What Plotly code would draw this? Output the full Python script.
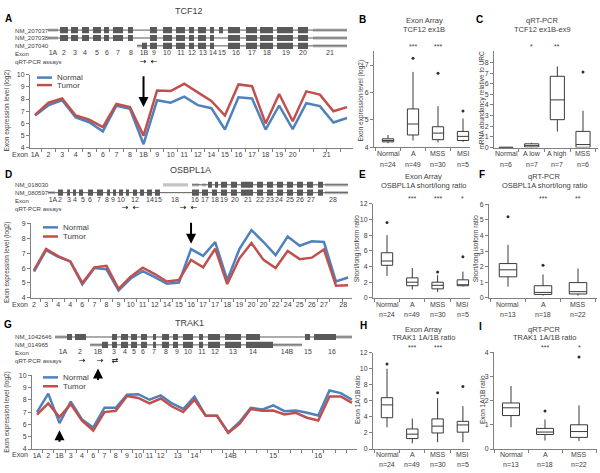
import plotly.graph_objects as go

W, H = 600, 473
FONT = "Liberation Sans"
TXT = "#404040"
AXC = "#808080"
BLUE = "#4F81BD"
RED = "#C0504D"
DARK = "#5a5a5a"
LIGHT = "#c4c4c4"

# ---- probe-level exon expression (log2), normal vs tumor
tcf12_normal = [6.65, 7.5, 7.9, 6.5, 6.1, 5.35, 7.45, 7.2, 4.3, 7.9, 7.7, 8.2, 7.5, 7.25,
                5.5, 8.15, 8.05, 5.5, 7.47, 5.54, 7.66, 7.42, 6.08, 6.45]
tcf12_tumor = [6.7, 7.7, 8.05, 6.65, 6.3, 5.7, 7.6, 7.35, 5.0, 8.7, 8.65, 9.25, 8.55, 7.85,
               6.65, 9.2, 9.05, 6.0, 8.41, 6.18, 8.63, 8.36, 7.0, 7.34]
tcf12_ticks = ["1A", "2", "3", "4", "5", "6", "7", "8", "1B", "9", "10", "11", "12", "14",
               "15", "16", "17", "18", "19", "20", "21"]
tcf12_tickpos = list(range(20)) + [21.5]

osbpl_normal = [5.76, 7.2, 6.75, 6.45, 4.9, 6.0, 5.92, 4.5, 5.3, 5.8, 5.4, 4.95, 5.03, 7.27,
                6.82, 7.75, 5.2, 7.27, 8.55, 7.75, 6.87, 8.12, 7.5, 7.8, 7.75, 5.1, 5.37]
osbpl_tumor = [5.87, 7.28, 6.8, 6.45, 5.0, 6.05, 6.15, 4.6, 5.43, 6.03, 5.6, 5.1, 5.2, 6.55,
               6.05, 7.3, 4.93, 6.65, 7.68, 6.55, 6.0, 7.15, 6.6, 6.7, 7.25, 4.82, 4.85]
osbpl_ticks = ["2", "3", "4", "4", "6", "7", "8", "9", "10", "11", "12", "14", "15", "16",
               "17", "17", "18", "19", "20", "20", "22", "24", "25", "26", "27", "28"]
osbpl_tickpos = list(range(25)) + [25.6]

trak1_normal = [7.0, 8.5, 6.1, 7.85, 6.4, 5.75, 7.35, 7.35, 8.4, 8.45, 8.0, 8.35, 7.7, 7.25,
                8.25, 6.7, 6.7, 5.35, 6.2, 7.35, 7.2, 7.55, 7.07, 7.12, 6.94, 6.72, 8.75,
                8.54, 8.0]
trak1_tumor = [6.8, 7.7, 6.6, 7.65, 6.3, 5.5, 7.0, 7.1, 8.3, 8.15, 7.7, 8.1, 7.45, 7.0,
               8.0, 6.7, 6.7, 5.3, 6.05, 7.25, 7.1, 7.12, 6.8, 6.94, 6.54, 6.32, 8.27,
               8.27, 7.74]
trak1_ticks = ["1A", "2", "1B", "3", "4", "6", "7", "8", "9", "10", "11", "12", "13", "14",
               "14B", "15", "16"]
trak1_tickpos = [0, 1, 2, 3, 4, 5, 6, 7, 8, 9, 10, 11, 12.5, 14, 17.2, 21, 25]

# ---- transcript schematics (schematic coordinates)
tcf12_tx = ["NM_207037", "NM_207038", "NM_207040"]
tcf12_span = [[48, 347], [48, 347], [137, 347]]
_tcf12_main = [[150, 157], [163, 172], [176, 185], [189, 194], [198, 206], [210, 214]]
_tcf12_tail = [[228, 240], [246, 257], [260, 273], [277, 293], [298, 308]]
_tcf12_head = [[60, 68], [71, 78], [82, 89], [93, 101], [104, 109], [113, 123], [128, 133]]
tcf12_cds = [_tcf12_head + _tcf12_main + [[219, 223]] + _tcf12_tail,
             _tcf12_head + _tcf12_main + _tcf12_tail,
             [[142, 147]] + _tcf12_main + _tcf12_tail]
tcf12_utr = [[[48, 58], [313, 347]], [[48, 58], [313, 347]], [[137, 142], [313, 347]]]
tcf12_exons = ["1A", "2", "3", "4", "5", "6", "7", "8", "1B", "9", "10", "11", "12", "13",
               "14", "15", "16", "17", "18", "19", "20", "21"]
tcf12_exon_x = [53, 64, 75, 85, 97, 107, 118, 131, 144, 154, 167, 181, 192, 203, 213, 222,
                236, 252, 267, 286, 303, 330]
tcf12_assay = ["→", "←"]
tcf12_assay_x = [143, 154]

osbpl_tx = ["NM_018030", "NM_080597"]
osbpl_span = [[192, 348], [48, 348]]
_osbpl_tail = [[221, 227], [231, 237], [241, 253], [257, 263], [267, 273], [277, 283],
               [287, 293], [297, 303], [307, 313], [318, 323]]
osbpl_cds = [[[208, 212], [215, 218]] + _osbpl_tail,
             [[58, 63], [67, 70], [73, 76], [79, 83], [88, 93], [97, 103], [107, 110],
              [113, 116], [119, 123], [126, 129], [133, 137], [140, 144], [147, 152],
              [155, 160], [192, 199], [202, 208], [212, 217]] + _osbpl_tail]
osbpl_utr = [[[163, 188], [192, 199], [202, 206], [325, 348]], [[48, 55], [325, 348]]]
osbpl_exons = ["1A", "2", "3", "4", "5", "6", "7", "8", "9", "10", "12", "14", "15", "18",
               "16", "17", "18", "19", "20", "21", "22", "23", "24", "25", "26", "27", "28"]
osbpl_exon_x = [53, 60, 69, 75, 83, 90, 99, 107, 113, 121, 135, 150, 158, 175, 195, 205,
                215, 224, 235, 248, 260, 270, 279, 290, 300, 311, 333]
osbpl_assay = ["→", "←", "→", "←"]
osbpl_assay_x = [125, 136, 183, 194]

trak1_tx = ["NM_1042646", "NM_014965"]
trak1_span = [[55, 352], [90, 302]]
_trak1_mid = [[112, 117], [121, 128], [131, 137], [141, 147], [153, 156], [162, 169],
              [173, 178], [183, 193], [199, 203], [208, 220], [225, 241]]
trak1_cds = [[[67, 72], [75, 86]] + _trak1_mid + [[246, 260], [305, 310], [314, 336]],
             [[102, 108]] + _trak1_mid + [[246, 273]]]
trak1_utr = [[[55, 67], [336, 352]], [[90, 102], [273, 302]]]
trak1_exons = ["1A", "2", "1B", "3", "4", "5", "6", "7", "8", "9", "10", "11", "12", "13",
               "14", "14B", "15", "16"]
trak1_exon_x = [63, 80, 98, 114, 125, 134, 143, 154, 166, 177, 188, 202, 215, 233, 253,
                287, 308, 332]
trak1_assay = ["→", "→", "⇄"]
trak1_assay_x = [82, 100, 115]

# ---- box plot summaries: [lower whisker, q1, median, q3, upper whisker]
exarr_groups = ["Normal", "A", "MSS", "MSI"]
exarr_n = [24, 49, 30, 5]
b_stats = [[4.15, 4.2, 4.25, 4.31, 4.45], [4.25, 4.45, 4.85, 5.4, 6.75],
           [4.18, 4.28, 4.52, 4.75, 5.5], [4.2, 4.25, 4.4, 4.58, 5.05]]
b_out = [[], [7.25], [6.7], [5.32]]
b_stars = ["", "***", "***", ""]

c_groups = ["Normal", "A low", "A high", "MSS"]
c_n = [6, 7, 7, 6]
c_stats = [[0.0, 0.0, 0.01, 0.03, 0.05], [0.02, 0.05, 0.18, 0.35, 0.45],
           [1.5, 2.62, 4.48, 6.7, 7.62], [0.0, 0.02, 0.28, 1.52, 3.46]]
c_out = [[], [], [], [7.1]]
c_stars = ["", "*", "**", ""]

e_stats = [[2.8, 4.15, 4.7, 5.75, 8.0], [1.05, 1.55, 2.0, 2.55, 3.8],
           [0.75, 1.15, 1.6, 2.0, 2.9], [1.46, 1.55, 1.65, 2.3, 3.35]]
e_out = [[9.6], [], [3.3], [5.25]]
e_stars = ["", "***", "***", "*"]

qpcr_groups = ["Normal", "A", "MSS"]
qpcr_n = [13, 18, 22]
f_stats = [[0.72, 1.35, 1.8, 2.2, 3.4], [0.15, 0.22, 0.35, 0.78, 1.5],
           [0.15, 0.25, 0.4, 0.98, 1.88]]
f_out = [[5.2], [2.1], []]
f_stars = ["", "***", "**"]

h_stats = [[2.7, 3.9, 5.5, 6.4, 10.0], [0.7, 1.3, 1.85, 2.5, 3.8],
           [0.85, 2.0, 2.85, 3.75, 6.35], [0.85, 2.1, 3.0, 3.45, 5.35]]
h_out = [[10.6], [], [7.0], [7.8]]
h_stars = ["", "***", "***", ""]

i_stats = [[0.9, 1.38, 1.7, 1.9, 2.6], [0.35, 0.6, 0.7, 0.85, 1.22],
           [0.33, 0.48, 0.72, 1.0, 1.8]]
i_out = [[], [1.57], [3.8]]
i_stars = ["", "***", "*"]


def X(px):
    return px / W


def Y(py):
    return 1 - py / H


def ax(n):
    return "" if n == 1 else str(n)


def txt(x, y, s, size=7, color=TXT, anchor="center", angle=0, family=FONT):
    return dict(x=X(x), y=Y(y), xref="paper", yref="paper", text=s, showarrow=False,
                xanchor=anchor, yanchor="middle", textangle=angle,
                font=dict(size=size, color=color, family=family))


fig = go.Figure()
lay = {}
notes = []
shapes = []


def line_panel(n, normal, tumor, ticks, tickpos, x0, x1, i0, step, top, bottom, yr):
    for vals, col, name in ((normal, BLUE, "Normal"), (tumor, RED, "Tumor")):
        fig.add_trace(go.Scatter(x=list(range(len(vals))), y=vals, mode="lines", name=name,
                                 line=dict(color=col, width=2.5), showlegend=False,
                                 xaxis="x" + ax(n), yaxis="y" + ax(n), hoverinfo="skip"))
    lay["xaxis" + ax(n)] = dict(
        domain=[X(x0), X(x1)], anchor="y" + ax(n), range=[(x0 - i0) / step, (x1 - i0) / step],
        tickmode="array", tickvals=tickpos, ticktext=ticks, ticks="", showline=True,
        linecolor=AXC, showgrid=False, zeroline=False,
        tickfont=dict(size=7, color=TXT, family=FONT),
        minor=dict(tickmode="array", tickvals=[k + 0.5 for k in range(-1, len(normal))],
                   ticks="outside", ticklen=3, tickcolor=AXC))
    lay["yaxis" + ax(n)] = dict(
        domain=[Y(bottom), Y(top)], anchor="x" + ax(n), range=yr, dtick=1, showline=True,
        linecolor=AXC, ticks="outside", ticklen=3, tickcolor=AXC, showgrid=False,
        zeroline=False, tickfont=dict(size=7, color=TXT, family=FONT))


def gene_panel(yn, names, spans, cds, utr, exons, exon_x, assay, assay_x, top_row, left_lab):
    cats = names + ["Exon", "qRT-PCR assays"]
    ya = "y" + str(yn)
    for name, sp, c, u in zip(names, spans, cds, utr):
        fig.add_trace(go.Scatter(x=sp, y=[name, name], mode="lines",
                                 line=dict(color=DARK, width=1), xaxis="x4", yaxis=ya,
                                 showlegend=False, hoverinfo="skip"))
        fig.add_trace(go.Bar(orientation="h", base=[a for a, b in u], x=[b - a for a, b in u],
                             y=[name] * len(u), width=0.42, marker=dict(color=LIGHT, line_width=0),
                             xaxis="x4", yaxis=ya, showlegend=False, hoverinfo="skip"))
        fig.add_trace(go.Bar(orientation="h", base=[a for a, b in c], x=[b - a for a, b in c],
                             y=[name] * len(c), width=0.78, marker=dict(color=DARK, line_width=0),
                             xaxis="x4", yaxis=ya, showlegend=False, hoverinfo="skip"))
    fig.add_trace(go.Scatter(x=exon_x, y=["Exon"] * len(exons), mode="text", text=exons,
                             textfont=dict(size=7, color=TXT, family=FONT), xaxis="x4",
                             yaxis=ya, showlegend=False, hoverinfo="skip"))
    fig.add_trace(go.Scatter(x=assay_x, y=["qRT-PCR assays"] * len(assay), mode="text",
                             text=assay, textfont=dict(size=8, color="black", family="DejaVu Sans"),
                             xaxis="x4", yaxis=ya, showlegend=False, hoverinfo="skip"))
    rs = 8
    lay["yaxis" + str(yn)] = dict(domain=[Y(top_row - rs / 2 + rs * len(cats)), Y(top_row - rs / 2)],
                                  anchor="x4", type="category", categoryarray=cats,
                                  range=[len(cats) - 0.5, -0.5], visible=False)
    for k, c in enumerate(cats):
        notes.append(txt(left_lab, top_row + k * rs, c, size=6.1, anchor="left"))


def box_panel(n, groups, counts, stats, outs, stars, x0, x1, c0, sp, top, bottom, yr,
              tickvals, bw, star_y, lab_dy=(6.5, 17)):
    xa, ya = "x" + str(n), "y" + str(n)
    lo, q1, me, q3, hi = zip(*stats)
    fig.add_trace(go.Box(x=groups, q1=q1, median=me, q3=q3, lowerfence=lo, upperfence=hi,
                         fillcolor="white", line=dict(color="#3a3a3a", width=1), whiskerwidth=0,
                         width=bw, boxpoints=False, xaxis=xa, yaxis=ya, showlegend=False,
                         hoverinfo="skip"))
    ox = [g for g, o in zip(groups, outs) for _ in o]
    oy = [v for o in outs for v in o]
    fig.add_trace(go.Scatter(x=ox, y=oy, mode="markers", marker=dict(size=3, color="#303030"),
                             xaxis=xa, yaxis=ya, showlegend=False, hoverinfo="skip"))
    lay["xaxis" + str(n)] = dict(
        domain=[X(x0), X(x1)], anchor=ya, type="category", categoryarray=groups,
        range=[(x0 - c0) / sp, (x1 - c0) / sp], showline=True, linecolor=AXC, ticks="outside",
        tickson="boundaries", ticklen=3, tickcolor=AXC, showgrid=False, zeroline=False,
        showticklabels=False)
    lay["yaxis" + str(n)] = dict(
        domain=[Y(bottom), Y(top)], anchor=xa, range=yr, tickmode="array", tickvals=tickvals,
        showline=True, linecolor=AXC, ticks="outside", ticklen=3, tickcolor=AXC,
        showgrid=False, zeroline=False, tickfont=dict(size=7, color=TXT, family=FONT))
    for k, (g, c) in enumerate(zip(groups, counts)):
        for dy, s in zip(lab_dy, (g, "n=%d" % c)):
            notes.append(dict(x=k, y=Y(bottom + dy), xref=xa, yref="paper", text=s,
                              showarrow=False, yanchor="middle", borderpad=0,
                              font=dict(size=7, color=TXT, family=FONT)))
    for k, s in enumerate(stars):
        if s:
            notes.append(dict(x=k, y=Y(star_y), xref=xa, yref="paper", text=s, showarrow=False,
                              yanchor="middle", font=dict(size=7, color=TXT, family=FONT)))


# line charts
line_panel(1, tcf12_normal, tcf12_tumor, tcf12_ticks, tcf12_tickpos, 30, 353, 35, 13.565,
           71.7, 146, [4, 10])
line_panel(2, osbpl_normal, osbpl_tumor, osbpl_ticks, osbpl_tickpos, 31, 352, 34, 12.08,
           222.7, 298.3, [4, 9])
line_panel(3, trak1_normal, trak1_tumor, trak1_ticks, trak1_tickpos, 32, 357, 37, 11.25,
           376.7, 451.7, [4, 10])

# transcript schematics
lay["xaxis4"] = dict(domain=[0, X(360)], range=[0, 360], anchor="y4", visible=False)
gene_panel(4, tcf12_tx, tcf12_span, tcf12_cds, tcf12_utr, tcf12_exons, tcf12_exon_x,
           tcf12_assay, tcf12_assay_x, 26.5, 13)
gene_panel(5, osbpl_tx, osbpl_span, osbpl_cds, osbpl_utr, osbpl_exons, osbpl_exon_x,
           osbpl_assay, osbpl_assay_x, 183.5, 13)
gene_panel(6, trak1_tx, trak1_span, trak1_cds, trak1_utr, trak1_exons, trak1_exon_x,
           trak1_assay, trak1_assay_x, 338, 13)

# box plots
box_panel(7, exarr_groups, exarr_n, b_stats, b_out, b_stars, 374, 470, 388, 25, 48, 145.5,
          [4, 7.5], [4, 5, 6, 7], 0.45, 43)
box_panel(8, c_groups, c_n, c_stats, c_out, c_stars, 494, 598, 506, 25.67, 48, 145.7,
          [0, 9.05], list(range(9)), 0.55, 43)
box_panel(9, exarr_groups, exarr_n, e_stats, e_out, e_stars, 373, 470, 387, 25.3, 202.7, 298.3,
          [0, 12], list(range(0, 13, 2)), 0.45, 197)
box_panel(10, qpcr_groups, qpcr_n, f_stats, f_out, f_stars, 489, 597, 508, 35, 203.3, 298.3,
          [0, 6], list(range(7)), 0.5, 197)
box_panel(11, exarr_groups, exarr_n, h_stats, h_out, h_stars, 373, 470, 387, 25.3, 354, 451.7,
          [0, 12], list(range(0, 13, 2)), 0.45, 349, (5.5, 15.5))
box_panel(12, qpcr_groups, qpcr_n, i_stats, i_out, i_stars, 494, 597, 511, 34, 353.3, 451.7,
          [0, 4], list(range(5)), 0.5, 349, (5.5, 15.5))

# panel letters
for lt, x, y in (("A", 8, 15), ("B", 362, 16), ("C", 479, 16), ("D", 8, 173), ("E", 362, 173),
                 ("F", 482, 173), ("G", 8, 325), ("H", 363, 326), ("I", 480, 327)):
    notes.append(txt(x, y, "<b>%s</b>" % lt, size=10, color="black"))

# gene titles
notes.append(txt(189, 7, "TCF12", size=9))
notes.append(txt(190, 169, "OSBPL1A", size=9))
notes.append(txt(189, 324, "TRAK1", size=9))

# box titles
for x, y1, y2, t1, t2 in ((424, 17, 26, "Exon Array", "TCF12 ex1B"),
                          (542, 17, 26, "qRT-PCR", "TCF12 ex1B-ex9"),
                          (423, 175, 184, "Exon Array", "OSBPL1A short/long ratio"),
                          (544, 175, 184, "qRT-PCR", "OSBPL1A short/long ratio"),
                          (423, 330, 339, "Exon Array", "TRAK1 1A/1B ratio"),
                          (544, 330, 339, "qRT-PCR", "TRAK1 1A/1B ratio")):
    notes.append(txt(x, y1, t1, size=7.5))
    notes.append(txt(x, y2, t2, size=7.5))

# axis titles
for x, y, t in ((7, 108, "Exon expression level (log2)"),
                (7, 262, "Exon expression level (log2)"),
                (7, 414, "Exon expression level (log2)"),
                (361, 98, "Exon expression level (log2)"),
                (482, 98, "mRNA abundancy relative to URC"),
                (357, 248, "Short/long isoform ratio"),
                (476, 248, "Short/long isoform ratio"),
                (357, 402, "Exon 1A/1B ratio"),
                (482, 402, "Exon 1A/1B ratio")):
    notes.append(txt(x, y, t, size=6.5, angle=-90))

# "Exon" labels on line chart axes
for y in (153, 305, 457):
    notes.append(txt(30, y, "Exon", size=7, anchor="right"))

# legends
for xl, yn, yt in ((37, 74.7, 82.3), (43, 226.7, 236), (43, 379, 388)):
    for yy, col, name in ((yn, BLUE, "Normal"), (yt, RED, "Tumor")):
        shapes.append(dict(type="line", xref="paper", yref="paper", x0=X(xl), x1=X(xl + 15),
                           y0=Y(yy), y1=Y(yy), line=dict(color=col, width=2.5)))
        notes.append(txt(xl + 18, yy, name, size=8, anchor="left"))

# arrows
for xa, ya, x, tip, tail in (("x", "y", 8, 7.35, 10.0), ("x2", "y2", 13, 7.64, 9.15),
                             ("x3", "y3", 2, 5.52, 4.46)):
    notes.append(dict(x=x, y=tip, ax=x, ay=tail, xref=xa, yref=ya, axref=xa, ayref=ya,
                      text="", showarrow=True, arrowhead=2, arrowsize=1, arrowwidth=2,
                      arrowcolor="black"))
notes.append(dict(x=X(98), y=Y(370), xref="paper", yref="paper", ax=0, ay=13, text="",
                  showarrow=True, arrowhead=2, arrowsize=1, arrowwidth=2, arrowcolor="black"))

fig.update_layout(
    width=W, height=H, margin=dict(l=0, r=0, t=0, b=0), paper_bgcolor="white",
    plot_bgcolor="white", barmode="overlay", showlegend=False, annotations=notes,
    shapes=shapes, font=dict(family=FONT, color=TXT), **lay)
fig.write_html("out.html", config={"displayModeBar": False},
               post_script="document.body.style.margin='0';")
